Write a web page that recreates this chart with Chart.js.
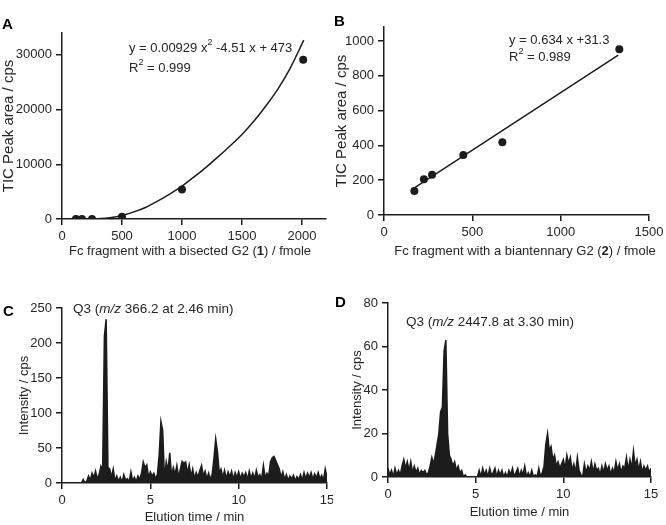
<!DOCTYPE html>
<html lang="en">
<head>
<meta charset="UTF-8" />
<title>Fc fragment calibration and Q3 chromatograms</title>
<script src="https://cdn.jsdelivr.net/npm/chart.js"></script>
<style>
  body { margin: 0; background: #fff; }
  #wrap { position: relative; width: 666px; height: 525px; }
  canvas { position: absolute; }
</style>
</head>
<body>
<div id="wrap">
  <canvas id="panelA" width="333" height="262" style="left:0;top:0"></canvas>
  <canvas id="panelB" width="333" height="262" style="left:333px;top:0"></canvas>
  <canvas id="panelC" width="333" height="263" style="left:0;top:262px"></canvas>
  <canvas id="panelD" width="333" height="263" style="left:333px;top:262px"></canvas>
</div>
<script>
// ---- data ----
// A: bisected G2 (1)
const aAmount = [116, 166, 250, 500, 1000, 2010];
const aArea = [0, 0, 0, 430, 5400, 29100];
const aFitX = [280, 400, 500, 600, 700, 800, 900, 1000, 1100, 1200, 1300, 1400, 1500, 1600, 1700, 1800, 1900, 2015];
const aFitY = [0, 250, 650, 1300, 2150, 3300, 4600, 6000, 7700, 9450, 11350, 13350, 15450, 17900, 20700, 23800, 27500, 32700];
const aTicksX = [0, 500, 1000, 1500, 2000];
const aTicksY = [0, 10000, 20000, 30000];

// B: biantennary G2 (2)
const bAmount = [172, 226, 272, 449, 670, 1332];
const bArea = [138, 205, 231, 345, 418, 952];
const bFitX = [157, 1326];
const bFitY = [146, 919];
const bTicksX = [0, 500, 1000, 1500];
const bTicksY = [0, 200, 400, 600, 800, 1000];

// C / D: Q3 chromatograms, 0.1 min sampling
const elutionTime = [
  0, 0.1, 0.2, 0.3, 0.4, 0.5, 0.6, 0.7, 0.8, 0.9,
  1, 1.1, 1.2, 1.3, 1.4, 1.5, 1.6, 1.7, 1.8, 1.9,
  2, 2.1, 2.2, 2.3, 2.4, 2.5, 2.6, 2.7, 2.8, 2.9,
  3, 3.1, 3.2, 3.3, 3.4, 3.5, 3.6, 3.7, 3.8, 3.9,
  4, 4.1, 4.2, 4.3, 4.4, 4.5, 4.6, 4.7, 4.8, 4.9,
  5, 5.1, 5.2, 5.3, 5.4, 5.5, 5.6, 5.7, 5.8, 5.9,
  6, 6.1, 6.2, 6.3, 6.4, 6.5, 6.6, 6.7, 6.8, 6.9,
  7, 7.1, 7.2, 7.3, 7.4, 7.5, 7.6, 7.7, 7.8, 7.9,
  8, 8.1, 8.2, 8.3, 8.4, 8.5, 8.6, 8.7, 8.8, 8.9,
  9, 9.1, 9.2, 9.3, 9.4, 9.5, 9.6, 9.7, 9.8, 9.9,
  10, 10.1, 10.2, 10.3, 10.4, 10.5, 10.6, 10.7, 10.8, 10.9,
  11, 11.1, 11.2, 11.3, 11.4, 11.5, 11.6, 11.7, 11.8, 11.9,
  12, 12.1, 12.2, 12.3, 12.4, 12.5, 12.6, 12.7, 12.8, 12.9,
  13, 13.1, 13.2, 13.3, 13.4, 13.5, 13.6, 13.7, 13.8, 13.9,
  14, 14.1, 14.2, 14.3, 14.4, 14.5, 14.6, 14.7, 14.8, 14.9,
  15
];
const cIntensity = [
  0, 0, 0, 0, 0, 0, 0, 0, 0, 0,
  0, 0, 5, 0, 3, 10, 4, 14, 8, 17,
  6, 12, 24, 18, 210, 234, 22, 20, 8, 20,
  3, 10, 2, 8, 1, 12, 4, 6, 2, 16,
  3, 8, 2, 10, 5, 14, 30, 22, 26, 8,
  16, 10, 14, 6, 12, 40, 88, 75, 5, 30,
  18, 43, 10, 22, 12, 25, 8, 20, 31, 28,
  30, 14, 26, 9, 20, 6, 15, 8, 18, 25,
  10, 17, 6, 14, 5, 12, 35, 63, 45, 15,
  20, 8, 18, 6, 16, 9, 17, 5, 15, 8,
  16, 6, 14, 9, 15, 5, 17, 7, 14, 6,
  18, 8, 12, 5, 25, 7, 14, 10, 30, 36,
  38, 32, 26, 20, 8, 16, 5, 12, 4, 10,
  6, 11, 3, 9, 5, 12, 4, 15, 6, 14,
  8, 15, 5, 13, 7, 15, 6, 11, 4, 20,
  8
];
const dIntensity = [
  4, 1, 3, 0, 4, 1, 3, 1, 5, 8,
  4, 7, 3, 7, 2, 5, 2, 4, 1, 3,
  2, 3, 1, 2, 5, 9, 6, 10, 15, 20,
  30, 32, 58, 63, 20, 10, 8, 5, 7, 3,
  5, 2, 3, 0, 1, 0, 0, 0, 0, 0,
  0, 0, 3, 0, 4, 1, 3, 0, 4, 1,
  2, 4, 0, 3, 1, 3, 0, 2, 0, 3,
  1, 4, 0, 2, 4, 0, 3, 1, 5, 0,
  2, 0, 3, 0, 1, 0, 4, 0, 2, 5,
  15, 20, 12, 14, 8, 10, 5, 7, 4, 6,
  8, 4, 10, 6, 9, 3, 6, 2, 9, 3,
  1, 0, 6, 2, 5, 3, 7, 2, 6, 3,
  4, 1, 5, 2, 6, 3, 5, 1, 4, 2,
  7, 3, 6, 2, 5, 4, 9, 3, 8, 4,
  12, 5, 8, 3, 7, 2, 5, 3, 5, 2,
  4
];
const cdTicksX = [0, 5, 10, 15];
const cTicksY = [0, 50, 100, 150, 200, 250];
const dTicksY = [0, 20, 40, 60, 80];

// ---- shared look ----
const ink = '#1c1c1c';
const textInk = '#262626';
const fontFamily = '"Liberation Sans", Arial, Helvetica, sans-serif';
Chart.defaults.font.family = fontFamily;
Chart.defaults.font.size = 13;
Chart.defaults.color = textInk;
Chart.defaults.animation = false;

function pairs(xs, ys) {
  return xs.map((x, i) => ({ x: x, y: ys[i] }));
}

// linear axis with fixed ticks and a fixed box size
function axis(min, max, ticks, boxSize, extra) {
  return Object.assign({
    type: 'linear',
    min: min,
    max: max,
    afterBuildTicks: s => { s.ticks = ticks.map(v => ({ value: v })); },
    afterFit: s => {
      if (s.isHorizontal()) s.height = boxSize; else s.width = boxSize;
      s.paddingLeft = s.paddingRight = s.paddingTop = s.paddingBottom = 0;
    },
    ticks: { autoSkip: false, maxRotation: 0, padding: 4, callback: v => String(v), color: textInk },
    grid: { drawOnChartArea: false, drawTicks: true, tickLength: 6, color: ink, lineWidth: 1.5 },
    border: { display: true, color: ink, width: 1.5 }
  }, extra || {});
}

function fontStr(p, size) {
  return (p.i ? 'italic ' : '') + (p.b ? 'bold ' : '') + (p.sup ? 9 : size) + 'px ' + fontFamily;
}

// draws mixed-style text (bold digits, italic m/z, superscripts)
function textPlugin(items) {
  return {
    id: 'richText',
    afterDraw(chart) {
      const ctx = chart.ctx;
      items.forEach(it => {
        const size = it.size || 13;
        ctx.save();
        ctx.fillStyle = it.color || textInk;
        ctx.textBaseline = 'middle';
        ctx.textAlign = 'left';
        let total = 0;
        it.parts.forEach(p => { ctx.font = fontStr(p, size); total += ctx.measureText(p.t).width; });
        let x = it.align === 'center' ? it.x - total / 2 : it.x;
        it.parts.forEach(p => {
          ctx.font = fontStr(p, size);
          ctx.fillText(p.t, x, it.y + (p.sup ? -5 : 0));
          x += ctx.measureText(p.t).width;
        });
        ctx.restore();
      });
    }
  };
}

function yTitle(text, size, pad) {
  return { display: true, text: text, color: textInk, font: { size: size }, padding: { top: pad, bottom: 0 } };
}

function xTitle(text, pad) {
  return { display: true, text: text, color: textInk, font: { size: 13 }, padding: { top: 0, bottom: pad } };
}

// ---- A ----
new Chart(document.getElementById('panelA'), {
  type: 'scatter',
  data: {
    datasets: [
      { data: pairs(aFitX, aFitY), showLine: true, borderColor: ink, borderWidth: 1.5, pointRadius: 0, cubicInterpolationMode: 'monotone' },
      { data: pairs(aAmount, aArea), pointRadius: 4, backgroundColor: ink, borderWidth: 0 }
    ]
  },
  options: {
    responsive: false,
    layout: { padding: { left: 0, right: 7, top: 33, bottom: 0 } },
    plugins: { legend: { display: false }, tooltip: { enabled: false } },
    scales: {
      x: axis(0, 2200, aTicksX, 43),
      y: axis(0, 34000, aTicksY, 62, { title: yTitle('TIC Peak area / cps', 15, 0) })
    }
  },
  plugins: [textPlugin([
    { x: 2, y: 25, parts: [{ t: 'A', b: true }], size: 15, color: '#000' },
    { x: 129, y: 48, parts: [{ t: 'y = 0.00929 x' }, { t: '2', sup: true }, { t: ' -4.51 x + 473' }] },
    { x: 129, y: 68, parts: [{ t: 'R' }, { t: '2', sup: true }, { t: ' = 0.999' }] },
    { x: 190, y: 251, align: 'center', parts: [{ t: 'Fc fragment with a bisected G2 (' }, { t: '1', b: true }, { t: ') / fmole' }] }
  ])]
});

// ---- B ----
new Chart(document.getElementById('panelB'), {
  type: 'scatter',
  data: {
    datasets: [
      { data: pairs(bFitX, bFitY), showLine: true, borderColor: ink, borderWidth: 1.5, pointRadius: 0 },
      { data: pairs(bAmount, bArea), pointRadius: 4, backgroundColor: ink, borderWidth: 0 }
    ]
  },
  options: {
    responsive: false,
    layout: { padding: { left: 0, right: 17, top: 27, bottom: 0 } },
    plugins: { legend: { display: false }, tooltip: { enabled: false } },
    scales: {
      x: axis(0, 1500, bTicksX, 47),
      y: axis(0, 1080, bTicksY, 51, { title: yTitle('TIC Peak area / cps', 15, 0) })
    }
  },
  plugins: [textPlugin([
    { x: 1, y: 22, parts: [{ t: 'B', b: true }], size: 15, color: '#000' },
    { x: 176, y: 40, parts: [{ t: 'y = 0.634 x +31.3' }] },
    { x: 176, y: 57, parts: [{ t: 'R' }, { t: '2', sup: true }, { t: ' = 0.989' }] },
    { x: 192, y: 251, align: 'center', parts: [{ t: 'Fc fragment with a biantennary G2 (' }, { t: '2', b: true }, { t: ') / fmole' }] }
  ])]
});

// ---- C ----
new Chart(document.getElementById('panelC'), {
  type: 'scatter',
  data: {
    datasets: [
      { data: pairs(elutionTime, cIntensity), showLine: true, fill: 'origin', backgroundColor: ink, borderColor: ink, borderWidth: 1.5, pointRadius: 0 }
    ]
  },
  options: {
    responsive: false,
    layout: { padding: { left: 0, right: 6, top: 46, bottom: 0 } },
    plugins: { legend: { display: false }, tooltip: { enabled: false } },
    scales: {
      x: axis(0, 15, cdTicksX, 42, { title: xTitle('Elution time / min', 0) }),
      y: axis(0, 250, cTicksY, 62, { title: yTitle('Intensity / cps', 13, 17) })
    }
  },
  plugins: [textPlugin([
    { x: 3, y: 50, parts: [{ t: 'C', b: true }], size: 15, color: '#000' },
    { x: 73, y: 47, size: 13.5, parts: [{ t: 'Q3 (' }, { t: 'm/z', i: true }, { t: ' 366.2 at 2.46 min)' }] }
  ])]
});

// ---- D ----
new Chart(document.getElementById('panelD'), {
  type: 'scatter',
  data: {
    datasets: [
      { data: pairs(elutionTime, dIntensity), showLine: true, fill: 'origin', backgroundColor: ink, borderColor: ink, borderWidth: 1.5, pointRadius: 0 }
    ]
  },
  options: {
    responsive: false,
    layout: { padding: { left: 0, right: 15, top: 41, bottom: 0 } },
    plugins: { legend: { display: false }, tooltip: { enabled: false } },
    scales: {
      x: axis(0, 15, cdTicksX, 48, { title: xTitle('Elution time / min', 5) }),
      y: axis(0, 80, dTicksY, 55, { title: yTitle('Intensity / cps', 13, 17) })
    }
  },
  plugins: [textPlugin([
    { x: 2, y: 41, parts: [{ t: 'D', b: true }], size: 15, color: '#000' },
    { x: 73, y: 60, size: 13.5, parts: [{ t: 'Q3 (' }, { t: 'm/z', i: true }, { t: ' 2447.8 at 3.30 min)' }] }
  ])]
});
</script>
</body>
</html>
